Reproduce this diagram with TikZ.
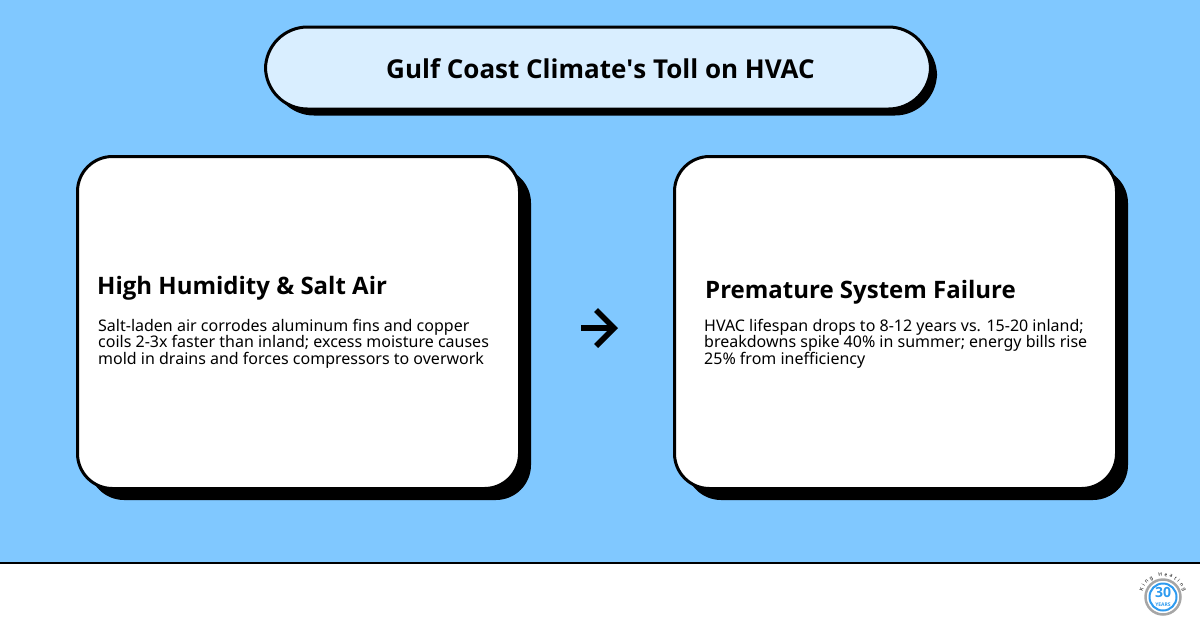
\documentclass[tikz,border=0pt]{standalone}
\usepackage{fontspec}
\setmainfont{Noto Sans}
\newfontfamily\headfont{Open Sans}
\usepackage{xcolor}
\usetikzlibrary{shapes, arrows.meta, positioning, shadows, decorations.text}

\definecolor{skyback}{HTML}{80C8FF}
\definecolor{paleblue}{HTML}{D9EEFF}
\definecolor{logoblue}{HTML}{2E9BF0}

\begin{document}
\begin{tikzpicture}[
    x=1pt, y=-1pt,
    title/.style={rectangle, draw, line width=3pt, rounded corners=42pt, fill=paleblue, minimum width=665pt, minimum height=82pt, text height=26.5pt, text depth=5pt, font=\headfont\fontsize{26}{30}\selectfont\bfseries, drop shadow={shadow xshift=6.5pt, shadow yshift=-6.5pt, fill=black, opacity=1}},
    card/.style={rectangle, draw, line width=3pt, rounded corners=35pt, fill=white, minimum width=442pt, minimum height=332pt, drop shadow={shadow xshift=11.5pt, shadow yshift=-11.5pt, fill=black, opacity=1}},
    heading/.style={inner sep=0pt, font=\headfont\fontsize{24}{28}\selectfont\bfseries},
    body/.style={inner sep=0pt, align=left, font=\fontsize{16}{16.2}\selectfont},
    arrow/.style={line width=5.5pt, -{Straight Barb[length=18pt, width=36pt, line width=5.5pt]}}
]
    \useasboundingbox (0,0) rectangle (1200,630);

    % Background
    \fill[skyback] (0,0) rectangle (1200,563);
    \draw[line width=2pt] (0,563) -- (1200,563);

    % Title
    \node[title] (title) at (598,68) {\hspace{5pt}Gulf Coast Climate\textquotesingle s Toll on HVAC};

    % Cards
    \node[card] (cause) at (298.5,322.5) {};
    \node[card] (effect) at (895.5,322.5) {};

    % Left text
    \node[heading, anchor=west] (causehead) at (97,288) {High Humidity \& Salt Air};
    \node[body, below=19pt of causehead.south west, anchor=north west, xshift=1pt] (causebody) {Salt-laden air corrodes aluminum fins and copper\\coils 2-3x faster than inland; excess moisture causes\\mold in drains and forces compressors to overwork};

    % Right text
    \node[heading, anchor=west] (effecthead) at (705,292) {Premature System Failure};
    \node[body, below=15pt of effecthead.south west, anchor=north west, xshift=-1pt] (effectbody) {HVAC lifespan drops to 8-12 years vs. 15-20 inland;\\breakdowns spike 40\% in summer; energy bills rise\\25\% from inefficiency};

    % Arrow
    \coordinate (arrowtail) at (581,328);
    \coordinate (arrowtip) at (618,328);
    \draw[arrow] (arrowtail) -- (arrowtip);

    % Logo
    \node[circle, draw=gray!70, line width=2.5pt, fill=white, minimum size=35pt, inner sep=0pt] (logoring) at (1163,597) {};
    \node[circle, draw=logoblue, line width=2pt, fill=white, minimum size=27pt, inner sep=0pt, text=logoblue, align=center, font=\headfont\fontsize{14}{10}\selectfont\bfseries] (logoseal) at (1163,597) {30\\[-1pt]{\fontsize{5}{5}\selectfont YEARS}};
    \path[decorate, decoration={text along path, text align={fit to path}, text={|\fontsize{5}{5}\selectfont|King Heating}}] (1142.7,591.6) arc[start angle=195, end angle=345, x radius=21pt, y radius=-21pt];
\end{tikzpicture}
\end{document}
